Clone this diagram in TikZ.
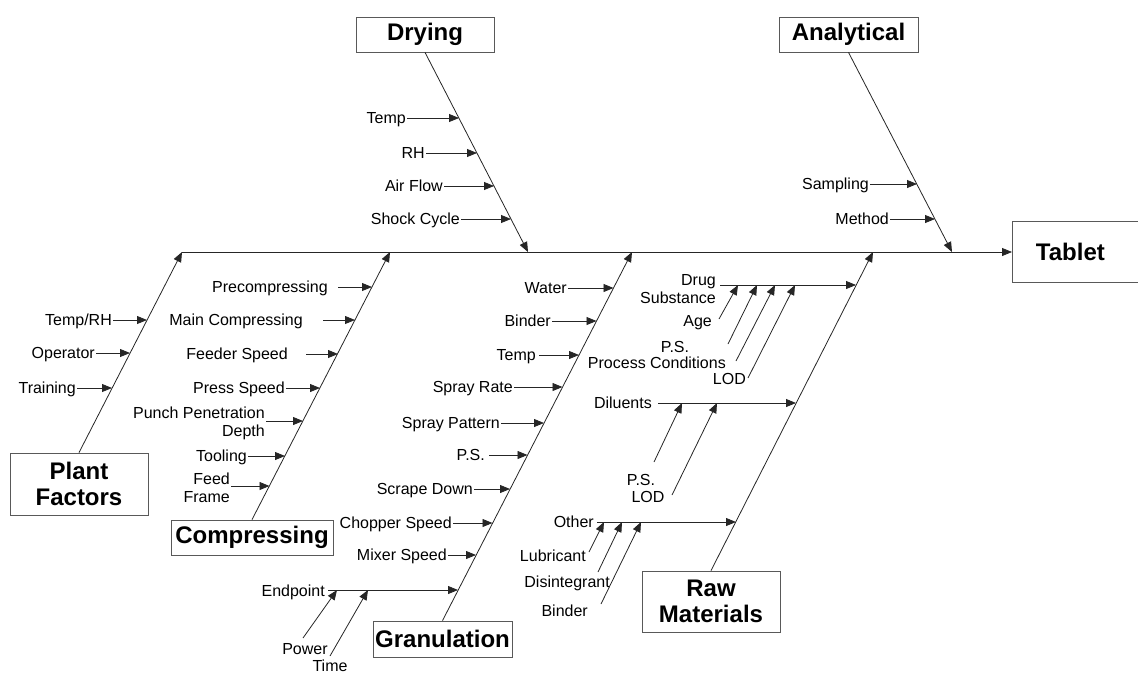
\documentclass[tikz,border=0pt]{standalone}
\usepackage{fontspec}
\setmainfont{Liberation Sans}
\usetikzlibrary{arrows.meta}
\begin{document}
\begin{tikzpicture}[x=1pt,y=-1pt,
  lbl/.style={font=\fontsize{16}{18}\selectfont, inner sep=1pt, align=right, text height=11pt, text depth=0pt},
  mlbl/.style={font=\fontsize{16}{18}\selectfont, inner sep=1pt, align=right},
  clbl/.style={lbl, align=center},
  ttl/.style={draw=black!65, line width=0.8pt, font=\fontsize{24}{26.5}\selectfont\bfseries, align=center, inner sep=0pt},
  bone/.style={draw=black!85, line width=0.8pt, -{Triangle[length=10pt,width=8pt]}},
  arr/.style={draw=black!85, line width=0.8pt, -{Triangle[length=10pt,width=8pt]}},
]
\useasboundingbox (0,0) rectangle (1138,673);

% ---------- category boxes ----------
\node[ttl, minimum width=138pt, minimum height=35pt] (dry) at (425,34.5) {Drying};
\node[ttl, minimum width=139pt, minimum height=35pt] (ana) at (848.5,34.5) {Analytical};
\node[ttl, minimum width=128pt, minimum height=61pt, anchor=west] (tab) at (1012,252) {\hspace*{-12pt}Tablet};
\node[ttl, minimum width=138pt, minimum height=62pt] (plant) at (79,484) {Plant\\Factors};
\node[ttl, minimum width=162pt, minimum height=35pt] (comp) at (252,537.5) {Compressing};
\node[ttl, minimum width=139pt, minimum height=36pt] (gran) at (442.5,639) {Granulation};
\node[ttl, minimum width=138pt, minimum height=61pt] (raw) at (711,601.5) {Raw\\Materials};

% ---------- spine and bones ----------
\coordinate (spS) at (182,252);
\coordinate (plantT) at (182,252);
\coordinate (compT) at (390,252);
\coordinate (granT) at (632,252);
\coordinate (rawT) at (873,252);
\coordinate (dryT) at (528,252);
\coordinate (anaT) at (952,252);
\draw[arr] (spS) -- (tab.west);
\draw[bone] (plant.north) -- (plantT);
\draw[bone] (comp.north) -- (compT);
\draw[bone] (gran.north) -- (granT);
\draw[bone] (raw.north) -- (rawT);
\draw[bone] (dry.south) -- (dryT);
\draw[bone] (ana.south) -- (anaT);

% ---------- Drying ----------
\node[lbl, anchor=east] (d1) at (407,118) {Temp};
\node[lbl, anchor=east] (d2) at (426,153) {RH};
\node[lbl, anchor=east] (d3) at (444,186) {Air Flow};
\node[lbl, anchor=east] (d4) at (461,219) {Shock Cycle};
\coordinate (d1t) at (459,118);
\coordinate (d2t) at (477,153);
\coordinate (d3t) at (494,186);
\coordinate (d4t) at (511,219);
\draw[arr] (d1.east |- d1t) -- (d1t);
\draw[arr] (d2.east |- d2t) -- (d2t);
\draw[arr] (d3.east |- d3t) -- (d3t);
\draw[arr] (d4.east |- d4t) -- (d4t);

% ---------- Analytical ----------
\node[lbl, anchor=east] (a1) at (870,184) {Sampling};
\node[lbl, anchor=east] (a2) at (890,219) {Method};
\coordinate (a1t) at (917,184);
\coordinate (a2t) at (935,219);
\draw[arr] (a1.east |- a1t) -- (a1t);
\draw[arr] (a2.east |- a2t) -- (a2t);

% ---------- Plant Factors ----------
\node[lbl, anchor=east] (p1) at (113,320) {Temp/RH};
\node[lbl, anchor=east] (p2) at (96,353) {Operator};
\node[lbl, anchor=east] (p3) at (77,388) {Training};
\coordinate (p1t) at (147,320);
\coordinate (p2t) at (130,353);
\coordinate (p3t) at (112,388);
\draw[arr] (p1.east |- p1t) -- (p1t);
\draw[arr] (p2.east |- p2t) -- (p2t);
\draw[arr] (p3.east |- p3t) -- (p3t);

% ---------- Compressing ----------
\node[lbl, anchor=east] (c1) at (329,287) {Precompressing};
\node[lbl, anchor=east] (c2) at (304,320) {Main Compressing};
\node[lbl, anchor=east] (c3) at (289,354) {Feeder Speed};
\node[lbl, anchor=east] (c4) at (286,388) {Press Speed};
\node[mlbl, anchor=east] (c5) at (266,423) {Punch Penetration\\Depth};
\node[lbl, anchor=east] (c6) at (248,456) {Tooling};
\node[mlbl, anchor=east] (c7) at (231,488) {Feed\\Frame};
\coordinate (c1s) at (338,287);
\coordinate (c2s) at (323,320);
\coordinate (c3s) at (306,354);
\coordinate (c1t) at (372,287);
\coordinate (c2t) at (355,320);
\coordinate (c3t) at (338,354);
\coordinate (c4t) at (320,388);
\coordinate (c5t) at (303,421);
\coordinate (c6t) at (285,456);
\coordinate (c7t) at (269.5,486);
\draw[arr] (c1s) -- (c1t);
\draw[arr] (c2s) -- (c2t);
\draw[arr] (c3s) -- (c3t);
\draw[arr] (c4.east |- c4t) -- (c4t);
\draw[arr] (c5.east |- c5t) -- (c5t);
\draw[arr] (c6.east |- c6t) -- (c6t);
\draw[arr] (c7.east |- c7t) -- (c7t);

% ---------- Granulation ----------
\node[lbl, anchor=east] (g1) at (568,288) {Water};
\node[lbl, anchor=east] (g2) at (552,321) {Binder};
\node[lbl, anchor=east] (g3) at (537,355) {Temp};
\node[lbl, anchor=east] (g4) at (514,387) {Spray Rate};
\node[lbl, anchor=east] (g5) at (501,423) {Spray Pattern};
\node[lbl, anchor=east] (g6) at (486,455) {P.S.};
\node[lbl, anchor=east] (g7) at (474,489) {Scrape Down};
\node[lbl, anchor=east] (g8) at (453,523) {Chopper Speed};
\node[lbl, anchor=east] (g9) at (448,555) {Mixer Speed};
\node[lbl, anchor=east] (g10) at (326,591) {Endpoint};
\coordinate (g1t) at (613.5,288);
\coordinate (g2t) at (596.5,321);
\coordinate (g3s) at (539,355);
\coordinate (g3t) at (579,355);
\coordinate (g4t) at (562.5,387);
\coordinate (g5t) at (544,423);
\coordinate (g6s) at (489,455);
\coordinate (g6t) at (527.5,455);
\coordinate (g7t) at (510,489);
\coordinate (g8t) at (492.5,523);
\coordinate (g9t) at (476,555);
\coordinate (g10s) at (328,590);
\coordinate (g10t) at (458,590);
\draw[arr] (g1.east |- g1t) -- (g1t);
\draw[arr] (g2.east |- g2t) -- (g2t);
\draw[arr] (g3s) -- (g3t);
\draw[arr] (g4.east |- g4t) -- (g4t);
\draw[arr] (g5.east |- g5t) -- (g5t);
\draw[arr] (g6s) -- (g6t);
\draw[arr] (g7.east |- g7t) -- (g7t);
\draw[arr] (g8.east |- g8t) -- (g8t);
\draw[arr] (g9.east |- g9t) -- (g9t);
\draw[arr] (g10s) -- (g10t);
% Endpoint sub-causes
\node[clbl] (e1) at (305,649) {Power};
\node[clbl] (e2) at (330,666) {Time};
\coordinate (e1s) at (303,638);
\coordinate (e1t) at (337,590);
\coordinate (e2s) at (330,656);
\coordinate (e2t) at (368,590);
\draw[arr] (e1s) -- (e1t);
\draw[arr] (e2s) -- (e2t);

% ---------- Raw Materials ----------
\node[mlbl, anchor=east] (r1) at (717,289) {Drug\\Substance};
\node[lbl, anchor=east] (r2) at (653,403) {Diluents};
\node[lbl, anchor=east] (r3) at (595,522) {Other};
\coordinate (r1s) at (720,285);
\coordinate (r1t) at (856,285);
\coordinate (r2s) at (658,403);
\coordinate (r2t) at (796,403);
\coordinate (r3s) at (597,522);
\coordinate (r3t) at (736,522);
\draw[arr] (r1s) -- (r1t);
\draw[arr] (r2s) -- (r2t);
\draw[arr] (r3s) -- (r3t);

% Drug substance sub-causes
\node[lbl, anchor=east] (ds1) at (713,321) {Age};
\node[clbl] (ds2) at (675,347) {P.S.};
\node[lbl, anchor=east] (ds3) at (727,363) {Process Conditions};
\node[lbl, anchor=east] (ds4) at (747,379) {LOD};
\coordinate (ds1s) at (719,319);
\coordinate (ds1t) at (738,285);
\coordinate (ds2s) at (728,344);
\coordinate (ds2t) at (757,285);
\coordinate (ds3s) at (736,361);
\coordinate (ds3t) at (775,285);
\coordinate (ds4s) at (748,378);
\coordinate (ds4t) at (795,285);
\draw[arr] (ds1s) -- (ds1t);
\draw[arr] (ds2s) -- (ds2t);
\draw[arr] (ds3s) -- (ds3t);
\draw[arr] (ds4s) -- (ds4t);

% Diluents sub-causes
\node[clbl] (dl1) at (641,480) {P.S.};
\node[clbl] (dl2) at (648,497) {LOD};
\coordinate (dl1s) at (654,462);
\coordinate (dl1t) at (682,403);
\coordinate (dl2s) at (672,495);
\coordinate (dl2t) at (717,403);
\draw[arr] (dl1s) -- (dl1t);
\draw[arr] (dl2s) -- (dl2t);

% Other sub-causes
\node[lbl, anchor=east] (o1) at (587,556) {Lubricant};
\node[lbl, anchor=east] (o2) at (611,582) {Disintegrant};
\node[lbl, anchor=east] (o3) at (589,611) {Binder};
\coordinate (o1s) at (589,552);
\coordinate (o1t) at (604,522);
\coordinate (o2s) at (598,572);
\coordinate (o2t) at (622,522);
\coordinate (o3s) at (601,604);
\coordinate (o3t) at (641,522);
\draw[arr] (o1s) -- (o1t);
\draw[arr] (o2s) -- (o2t);
\draw[arr] (o3s) -- (o3t);
\end{tikzpicture}
\end{document}
